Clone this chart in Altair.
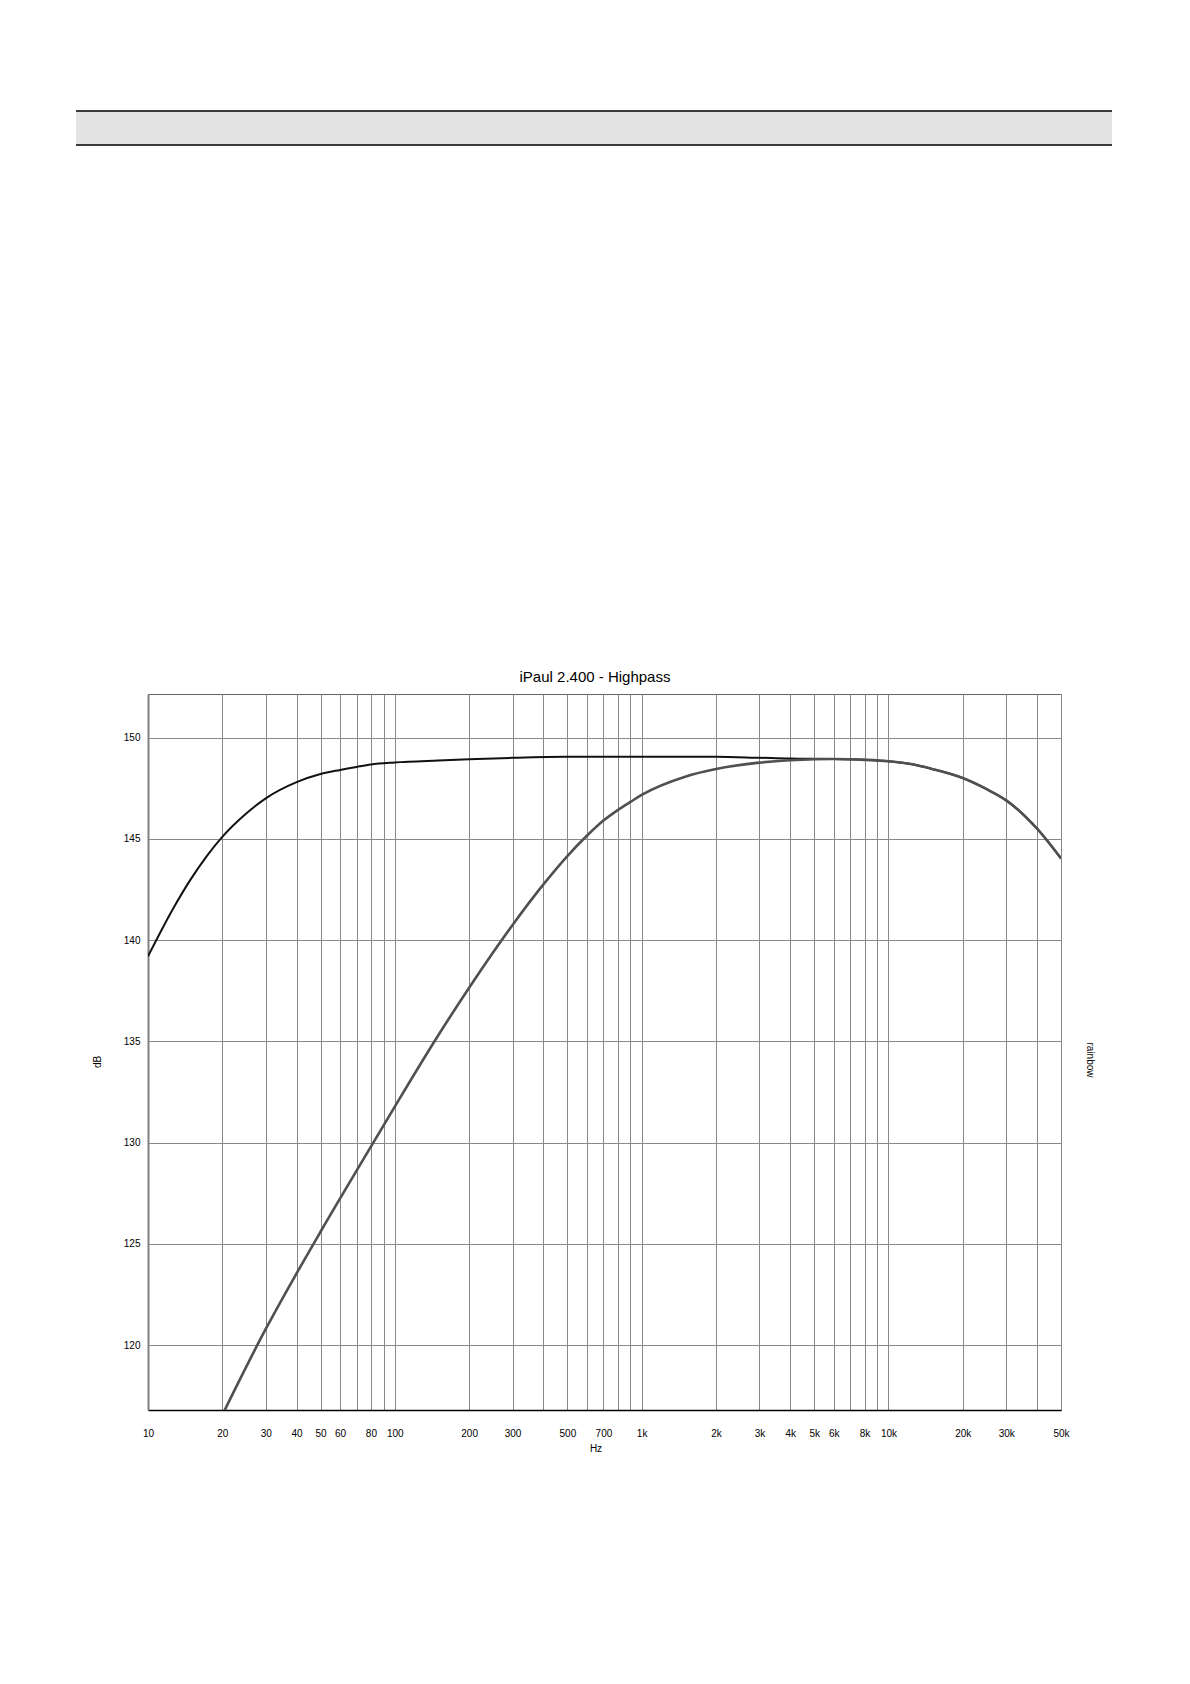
import altair as alt
import pandas as pd

# ---------------- data ----------------
title_text = "iPaul 2.400 - Highpass"
x_title = "Hz"
y_title = "dB"
right_title = "rainbow"

# black (reference / full-range) curve
black_freq = [10, 12.7, 14.8, 17.3, 20, 25, 30, 40, 50, 60, 70, 80, 100, 150, 200, 300,
              500, 700, 1000, 2000, 3000, 4000, 5000, 6000, 8000, 10000, 12500, 15000, 20000,
              25000, 30000, 40000, 50000]
black_db = [139.2, 141.6, 142.95, 144.15, 145.1, 146.25, 147.0, 147.8, 148.2, 148.4, 148.55,
            148.67, 148.77, 148.87, 148.93, 149.0, 149.05, 149.05, 149.05, 149.05, 149.0,
            148.96, 148.95, 148.94, 148.9, 148.83, 148.68, 148.45, 148.0, 147.45, 146.9,
            145.5, 144.03]

# grey (highpass) curve
grey_freq = [20, 30, 40, 50, 80, 100, 150, 200, 300, 400, 500, 600, 700, 800, 900, 1000, 1500,
             2000, 3000, 4000, 5000, 6000, 8000, 10000, 12500, 15000, 20000, 25000, 30000,
             40000, 50000]
grey_db = [116.55, 120.8, 123.55, 125.6, 129.8, 131.78, 135.3, 137.65, 140.75, 142.75, 144.15,
           145.15, 145.9, 146.42, 146.82, 147.17, 148.07, 148.45, 148.76, 148.88, 148.93,
           148.94, 148.9, 148.83, 148.68, 148.45, 148.0, 147.45, 146.9, 145.5, 144.03]

# axes
grid_freqs = [10, 20, 30, 40, 50, 60, 70, 80, 90,
              100, 200, 300, 400, 500, 600, 700, 800, 900,
              1000, 2000, 3000, 4000, 5000, 6000, 7000, 8000, 9000,
              10000, 20000, 30000, 40000, 50000]
label_freqs = [10, 20, 30, 40, 50, 60, 80, 100, 200, 300, 500, 700, 1000, 2000, 3000,
               4000, 5000, 6000, 8000, 10000, 20000, 30000, 50000]
label_texts = ["10", "20", "30", "40", "50", "60", "80", "100", "200", "300", "500", "700",
               "1k", "2k", "3k", "4k", "5k", "6k", "8k", "10k", "20k", "30k", "50k"]
y_ticks = [120, 125, 130, 135, 140, 145, 150]
x_domain = [10, 50000]
y_domain = [116.8, 152.15]

FONT = "Liberation Sans"
W, H = 913, 716

black_df = pd.DataFrame({"f": black_freq, "db": black_db})
grey_df = pd.DataFrame({"f": grey_freq, "db": grey_db})
one = pd.DataFrame({"a": [0]})

vals = "[" + ",".join(str(v) for v in label_freqs) + "]"
txts = "[" + ",".join("'" + t + "'" for t in label_texts) + "]"
label_expr = f"indexof({vals}, datum.value) < 0 ? '' : {txts}[indexof({vals}, datum.value)]"

x_enc = alt.X(
    "f:Q",
    scale=alt.Scale(type="log", domain=x_domain, nice=False),
    axis=alt.Axis(
        values=grid_freqs, labelExpr=label_expr, grid=True, gridColor="#888888",
        gridWidth=1, ticks=False, tickSize=0, labelPadding=23, labelBaseline="middle",
        labelFont=FONT, labelFontSize=10, labelColor="black", domainColor="black",
        domainWidth=1.5, title=None, labelOverlap=False, labelFlush=False, labelBound=False,
    ),
)
y_enc = alt.Y(
    "db:Q",
    scale=alt.Scale(domain=y_domain, nice=False, zero=False),
    axis=alt.Axis(
        values=y_ticks, grid=True, gridColor="#888888", gridWidth=1, ticks=False,
        tickSize=0, labelPadding=8, labelFont=FONT, labelFontSize=10, labelColor="black",
        domainColor="#808080", domainWidth=2, title=None, labelFlush=False,
    ),
)

black_line = alt.Chart(black_df).mark_line(
    color="#111111", strokeWidth=2, interpolate="monotone", clip=True
).encode(x=x_enc, y=y_enc)

grey_line = alt.Chart(grey_df).mark_line(
    color="#505050", strokeWidth=2.6, interpolate="monotone", clip=True
).encode(x=x_enc, y=y_enc)

# header band at the top of the page
header = alt.Chart(one).mark_rect(color="#e3e3e3").encode(
    x=alt.value(-72), x2=alt.value(964), y=alt.value(-583), y2=alt.value(-549)
)
header_top = alt.Chart(one).mark_rule(color="black", strokeWidth=1.5).encode(
    x=alt.value(-72), x2=alt.value(964), y=alt.value(-583)
)
header_bot = alt.Chart(one).mark_rule(color="black", strokeWidth=1.5).encode(
    x=alt.value(-72), x2=alt.value(964), y=alt.value(-549)
)

title = alt.Chart(one).mark_text(
    text=title_text, font=FONT, fontSize=15, color="black", baseline="middle", align="center"
).encode(x=alt.value(447), y=alt.value(-17))
xt = alt.Chart(one).mark_text(
    text=x_title, font=FONT, fontSize=10, color="black", baseline="middle", align="center"
).encode(x=alt.value(448), y=alt.value(755))
yt = alt.Chart(one).mark_text(
    text=y_title, font=FONT, fontSize=10, color="black", baseline="middle", align="center",
    angle=270
).encode(x=alt.value(-50), y=alt.value(368))
rt = alt.Chart(one).mark_text(
    text=right_title, font=FONT, fontSize=10, color="black", baseline="middle", align="center",
    angle=90
).encode(x=alt.value(942), y=alt.value(366))

chart = alt.layer(
    black_line, grey_line, header, header_top, header_bot, title, xt, yt, rt
).properties(
    width=W, height=H,
    autosize=alt.AutoSizeParams(type="none"),
    padding={"left": 140, "top": 686, "right": 110, "bottom": 80},
).configure_view(stroke="#666666", strokeWidth=1)

chart.save("out.html", embed_options={"renderer": "svg", "actions": False})
